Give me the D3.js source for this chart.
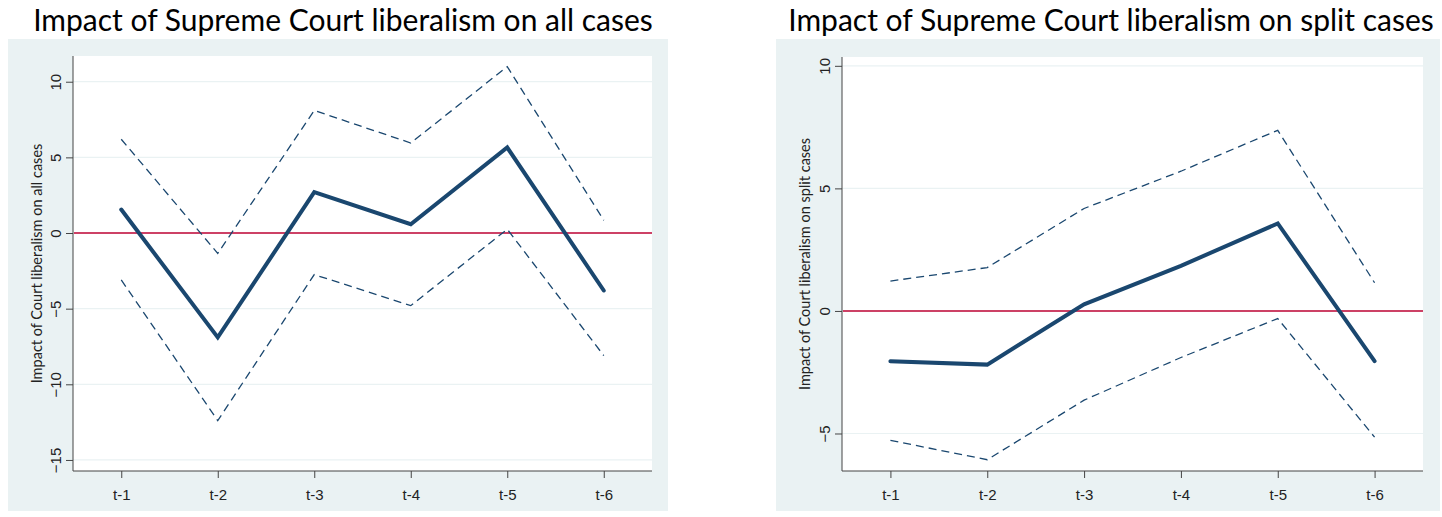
<!DOCTYPE html>
<html>
<head>
<meta charset="utf-8">
<script src="https://cdn.jsdelivr.net/npm/d3@7"></script>
<style>
  body { margin: 0; background: #fff; }
  svg { display: block; font-family: Lato, "Open Sans", sans-serif; }
</style>
</head>
<body>
<svg id="chart" width="1442" height="517"></svg>
<script>
// lags on the x axis
const lags = ["t-1", "t-2", "t-3", "t-4", "t-5", "t-6"];

// all cases: estimate with upper / lower bound
const allEst   = [1.55, -6.9, 2.7, 0.58, 5.65, -3.8];
const allUpper = [6.2, -1.35, 8.1, 5.95, 11.0, 0.84];
const allLower = [-3.1, -12.4, -2.75, -4.8, 0.25, -8.1];
const allTicks = [-15, -10, -5, 0, 5, 10];

// split cases
const splitEst   = [-2.05, -2.19, 0.27, 1.84, 3.57, -2.05];
const splitUpper = [1.22, 1.77, 4.18, 5.7, 7.37, 1.15];
const splitLower = [-5.28, -6.07, -3.64, -1.9, -0.31, -5.15];
const splitTicks = [-5, 0, 5, 10];

const svg = d3.select("#chart");
const navy = "#1a476f";
const red = "#c10534";
const bg = "#eaf2f3";

function drawPanel(opt) {
  // outer background
  svg.append("rect")
    .attr("x", opt.bg[0]).attr("y", opt.bg[1])
    .attr("width", opt.bg[2]).attr("height", opt.bg[3])
    .attr("fill", bg);

  svg.append("text")
    .attr("x", opt.titleX).attr("y", 31)
    .attr("text-anchor", "middle")
    .style("font-size", "30px")
    .attr("fill", "#000")
    .text(opt.title);

  const x = d3.scalePoint().domain(lags).range([opt.left, opt.right]).padding(0.5);
  const y = d3.scaleLinear().domain(opt.yDomain).range([opt.bottom, opt.top]);

  // white plot area
  svg.append("rect")
    .attr("x", opt.left).attr("y", opt.top)
    .attr("width", opt.right - opt.left).attr("height", opt.bottom - opt.top)
    .attr("fill", "#fff");

  const g = svg.append("g");

  // gridlines
  g.selectAll("line.grid")
    .data(opt.ticks)
    .enter()
    .append("line")
    .attr("class", "grid")
    .attr("x1", opt.left).attr("x2", opt.right)
    .attr("y1", d => y(d)).attr("y2", d => y(d))
    .attr("stroke", bg).attr("stroke-width", 1.2);

  // y axis, labels rotated like stata
  const yAxis = g.append("g")
    .attr("transform", "translate(" + opt.left + ",0)")
    .call(d3.axisLeft(y).tickValues(opt.ticks).tickSize(7).tickFormat(d3.format("d")));
  yAxis.select(".domain").attr("stroke", "#444").attr("d", "M0," + opt.bottom + "V" + opt.top);
  yAxis.selectAll(".tick line").attr("stroke", "#444");
  yAxis.selectAll(".tick text")
    .attr("x", null).attr("dy", null)
    .attr("transform", "translate(-12,0) rotate(-90)")
    .attr("text-anchor", "middle")
    .style("font-size", "15px")
    .attr("fill", "#222");

  // x axis
  const xAxis = g.append("g")
    .attr("transform", "translate(0," + opt.bottom + ")")
    .call(d3.axisBottom(x).tickSize(7).tickSizeOuter(0));
  xAxis.select(".domain").attr("stroke", "#444").attr("d", "M" + opt.left + ",0H" + opt.right);
  xAxis.selectAll(".tick line").attr("stroke", "#444");
  xAxis.selectAll(".tick text")
    .attr("y", 18)
    .style("font-size", "15px")
    .attr("fill", "#222");

  // y title
  svg.append("text")
    .attr("transform", "translate(" + opt.yTitleX + "," + ((opt.top + opt.bottom) / 2) + ") rotate(-90)")
    .attr("text-anchor", "middle")
    .style("font-size", "14.5px")
    .attr("fill", "#222")
    .text(opt.yTitle);

  // zero reference
  g.append("line")
    .attr("x1", opt.left + 1).attr("x2", opt.right)
    .attr("y1", y(0)).attr("y2", y(0))
    .attr("stroke", red).attr("stroke-width", 1.6);

  const line = d3.line().x((d, i) => x(lags[i])).y(d => y(d));

  [opt.upper, opt.lower].forEach(s => {
    g.append("path")
      .attr("d", line(s))
      .attr("fill", "none")
      .attr("stroke", navy)
      .attr("stroke-width", 1.3)
      .attr("stroke-dasharray", "8,5");
  });

  g.append("path")
    .attr("d", line(opt.est))
    .attr("fill", "none")
    .attr("stroke", navy)
    .attr("stroke-width", 4)
    .attr("stroke-linejoin", "miter")
    .attr("stroke-linecap", "round");
}

drawPanel({
  bg: [8, 39, 660, 472],
  title: "Impact of Supreme Court liberalism on all cases",
  titleX: 343,
  left: 73, right: 652, top: 56, bottom: 471,
  yDomain: [-15.73, 11.7],
  ticks: allTicks,
  yTitle: "Impact of Court liberalism on all cases",
  yTitleX: 42,
  est: allEst, upper: allUpper, lower: allLower
});

drawPanel({
  bg: [776, 39, 664, 472],
  title: "Impact of Supreme Court liberalism on split cases",
  titleX: 1111,
  left: 842, right: 1423, top: 57, bottom: 471,
  yDomain: [-6.53, 10.36],
  ticks: splitTicks,
  yTitle: "Impact of Court liberalism on split cases",
  yTitleX: 810,
  est: splitEst, upper: splitUpper, lower: splitLower
});
</script>
</body>
</html>
